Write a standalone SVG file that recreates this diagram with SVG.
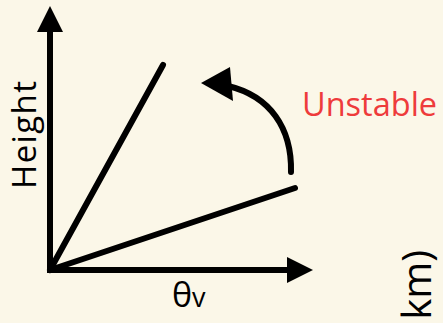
<svg xmlns="http://www.w3.org/2000/svg" width="443" height="323" viewBox="0 0 443 323">
<style>
.ln{stroke:#000;stroke-width:6;fill:none;stroke-linecap:round}
.ax{stroke:#000;stroke-width:6;fill:none;stroke-linecap:square}
.hd{fill:#000}
.t{font-family:"Open Sans","Noto Sans",sans-serif;font-size:33px;fill:#000}
</style>
<rect width="443" height="323" fill="#FBF7E8"/>
<g id="connectors">
<path class="ax" d="M50,30 V270 H290"/>
<polygon class="hd" points="50,6 37,32 63,32"/>
<polygon class="hd" points="313,270 287,257 287,283"/>
<path class="ln" d="M50,270 L163,65"/>
<path class="ln" d="M50,270 L295,188"/>
<path class="ln" d="M291,172 C292,128 270,96 228,86"/>
<polygon class="hd" points="201,83 230,67 233,101"/>
</g>
<g id="label-height"><text class="t" transform="translate(36,189) rotate(-90)" textLength="108" lengthAdjust="spacing">Height</text></g>
<g id="label-theta"><text class="t" x="172" y="307" style="font-size:34px">θ<tspan font-size="27">v</tspan></text></g>
<g id="label-unstable"><text class="t" x="302" y="116" style="fill:#EE3B3B;font-size:32.5px">Unstable</text></g>
<g id="label-km"><text class="t" transform="translate(431,250) rotate(-90)" text-anchor="end" style="font-size:40px">km)</text></g>
</svg>
